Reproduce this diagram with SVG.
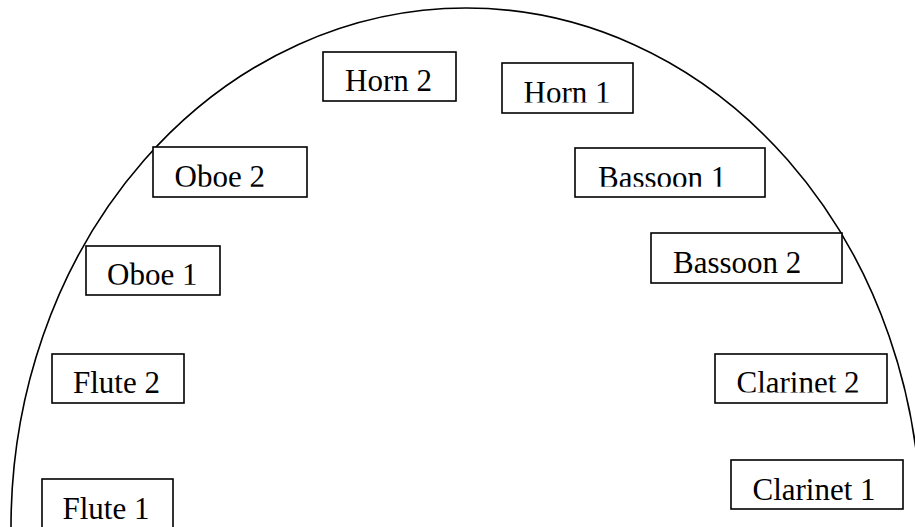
<svg xmlns="http://www.w3.org/2000/svg" width="915" height="527" viewBox="0 0 915 527">
  <style>
    .box { fill: #ffffff; stroke: #000000; stroke-width: 1.6; }
    .lbl { font-family: "Liberation Serif", "Times New Roman", serif; font-size: 31px; fill: #000000; }
    .arc { fill: none; stroke: #000000; stroke-width: 1.6; }
  </style>
  <defs>
    <!-- labels whose lower edge is cut off by their text frame -->
    <clipPath id="clipHorn1"><rect x="500" y="60" width="140" height="42.6"/></clipPath>
    <clipPath id="clipOboe2"><rect x="150" y="140" width="160" height="46.8"/></clipPath>
    <clipPath id="clipOboe1"><rect x="80" y="240" width="150" height="44.8"/></clipPath>
    <clipPath id="clipBassoon1"><rect x="570" y="140" width="200" height="46.8"/></clipPath>
    <clipPath id="clipClarinet2"><rect x="710" y="350" width="180" height="42.6"/></clipPath>
  </defs>

  <rect width="915" height="527" fill="#ffffff"/>

  <!-- seating arc -->
  <g id="connectors">
    <path class="arc" d="M 11 527 A 455 519 0 0 1 921 527"/>
  </g>

  <g id="horn2">
    <rect class="box" x="323" y="52" width="133" height="49"/>
    <text class="lbl" x="345" y="90.5">Horn 2</text>
  </g>
  <g id="horn1">
    <rect class="box" x="502" y="63" width="131" height="50"/>
    <text class="lbl" x="523.5" y="102.8" clip-path="url(#clipHorn1)">Horn 1</text>
  </g>
  <g id="oboe2">
    <rect class="box" x="153" y="147" width="154" height="50"/>
    <text class="lbl" x="174.5" y="186.8" clip-path="url(#clipOboe2)">Oboe 2</text>
  </g>
  <g id="bassoon1">
    <rect class="box" x="575" y="148" width="190" height="49"/>
    <text class="lbl" x="598" y="187.5" clip-path="url(#clipBassoon1)">Bassoon 1</text>
  </g>
  <g id="oboe1">
    <rect class="box" x="86" y="246" width="134" height="49"/>
    <text class="lbl" x="107" y="285" clip-path="url(#clipOboe1)">Oboe 1</text>
  </g>
  <g id="bassoon2">
    <rect class="box" x="651" y="233" width="191" height="50"/>
    <text class="lbl" x="673" y="272.8">Bassoon 2</text>
  </g>
  <g id="flute2">
    <rect class="box" x="52" y="354" width="132" height="49"/>
    <text class="lbl" x="73" y="392.5">Flute 2</text>
  </g>
  <g id="clarinet2">
    <rect class="box" x="715" y="354" width="172" height="49"/>
    <text class="lbl" x="736.5" y="392.5" clip-path="url(#clipClarinet2)">Clarinet 2</text>
  </g>
  <g id="clarinet1">
    <rect class="box" x="731" y="460" width="172" height="49"/>
    <text class="lbl" x="752.5" y="499.8">Clarinet 1</text>
  </g>
  <g id="flute1">
    <rect class="box" x="42" y="479" width="131" height="60"/>
    <text class="lbl" x="62.5" y="518.8">Flute 1</text>
  </g>
</svg>
